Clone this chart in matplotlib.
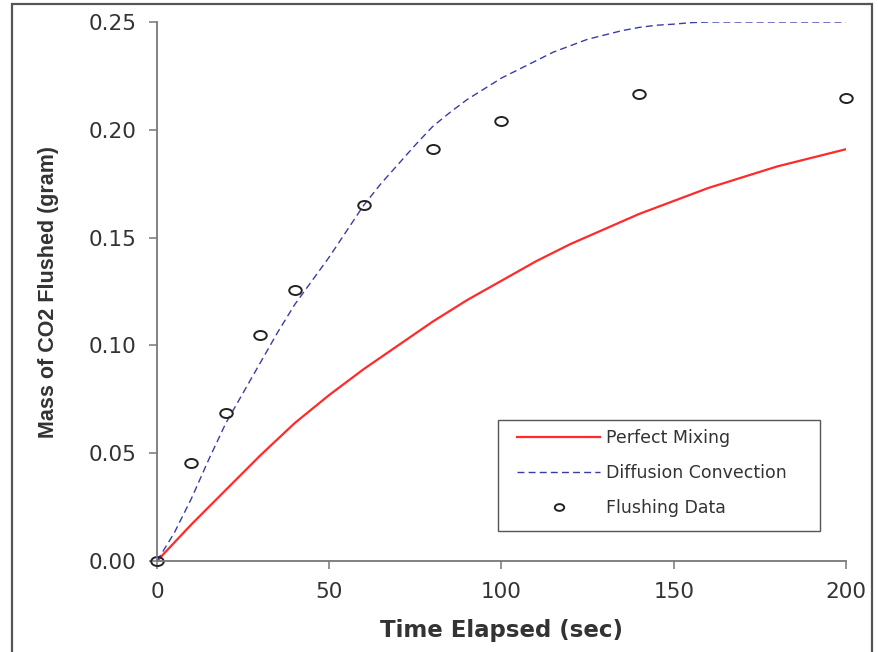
import matplotlib
matplotlib.use("Agg")
import matplotlib.pyplot as plt
import matplotlib.path as mpath
from matplotlib.transforms import Affine2D
from matplotlib.patches import Rectangle

# time (sec), every 5 s
t_model = [0, 5, 10, 15, 20, 25, 30, 35, 40, 45, 50, 55, 60, 65, 70, 75, 80, 85, 90, 95, 100,
           105, 110, 115, 120, 125, 130, 135, 140, 145, 150, 155, 160, 165, 170, 175, 180,
           185, 190, 195, 200]
perfect_mixing = [0, 0.0085, 0.017, 0.025, 0.033, 0.041, 0.049, 0.0565, 0.064, 0.0705, 0.077,
                  0.083, 0.089, 0.0945, 0.100, 0.1055, 0.111, 0.116, 0.121, 0.1255, 0.130,
                  0.1345, 0.139, 0.143, 0.147, 0.1505, 0.154, 0.1575, 0.161, 0.164, 0.167,
                  0.170, 0.173, 0.1755, 0.178, 0.1805, 0.183, 0.185, 0.187, 0.189, 0.191]
diffusion_conv = [0, 0.013, 0.029, 0.047, 0.064, 0.078, 0.092, 0.106, 0.119, 0.130, 0.141,
                  0.153, 0.165, 0.175, 0.184, 0.193, 0.2015, 0.208, 0.214, 0.219, 0.224,
                  0.228, 0.232, 0.236, 0.239, 0.242, 0.244, 0.246, 0.2475, 0.2485, 0.249,
                  0.2497, 0.250, 0.250, 0.250, 0.250, 0.250, 0.250, 0.250, 0.250, 0.250]

t_data = [0, 10, 20, 30, 40, 60, 80, 100, 140, 200]
flush_data = [0.0, 0.0455, 0.0686, 0.1048, 0.1257, 0.165, 0.191, 0.204, 0.2166, 0.2147]

xticks = [0, 50, 100, 150, 200]
yticks = [0.00, 0.05, 0.10, 0.15, 0.20, 0.25]

plt.rcParams['font.family'] = ['DejaVu Sans']

fig = plt.figure(figsize=(8.79, 6.52), dpi=100)
ax = fig.add_axes([157/879, 1-561/652, 689/879, 539/652])

ax.plot(t_model, perfect_mixing, color='#ff2a2a', lw=1.6, label='Perfect Mixing')
ax.plot(t_model, diffusion_conv, color='#3b3ba8', lw=1.0, ls=(0, (5, 3)), label='Diffusion Convection')

ellipse = mpath.Path.unit_circle().transformed(Affine2D().scale(1.0, 0.72))
ax.plot(t_data, flush_data, ls='none', marker=ellipse, markersize=9, mfc='none',
        mec='#222222', mew=1.4, label='Flushing Data', clip_on=False)

ax.set_xlim(0, 200)
ax.set_ylim(0, 0.25)
ax.set_xticks(xticks)
ax.set_yticks(yticks)
ax.set_yticklabels(['%.2f' % v for v in yticks])

for s in ['top', 'right']:
    ax.spines[s].set_visible(False)
for s in ['left', 'bottom']:
    ax.spines[s].set_color('#777777')
    ax.spines[s].set_linewidth(1.3)
ax.tick_params(direction='out', length=6, width=1.1, color='#777777',
               labelsize=15.5, labelcolor='#333333')
ax.tick_params(axis='y', pad=9)
ax.tick_params(axis='x', pad=9)

ax.set_xlabel('Time Elapsed (sec)', fontsize=16.5, fontweight='bold', color='#333333', labelpad=12)
ax.set_ylabel('Mass of CO2 Flushed (gram)', fontsize=15.5, fontweight='bold', color='#333333',
              family=['Liberation Sans'], labelpad=21)

# legend entries without frame, box drawn separately
leg = ax.legend(loc='upper left', bbox_to_anchor=(0.5225, 0.2455), frameon=False,
                fontsize=12.5, handlelength=4.8, labelspacing=1.0, borderpad=0,
                handletextpad=0.35, markerscale=0.75, borderaxespad=0)
for txt in leg.get_texts():
    txt.set_color('#333333')
ax.add_patch(Rectangle((0.4949, 0.0557), 0.4673, 0.206, transform=ax.transAxes,
                       fill=False, edgecolor='#555555', lw=1.0, zorder=4))

fig.patches.append(Rectangle((12/879, -0.1), 860/879, 1.1 - 4/652, transform=fig.transFigure,
                             fill=False, edgecolor='#555555', lw=1.6))

fig.savefig('out.png', dpi=100)
